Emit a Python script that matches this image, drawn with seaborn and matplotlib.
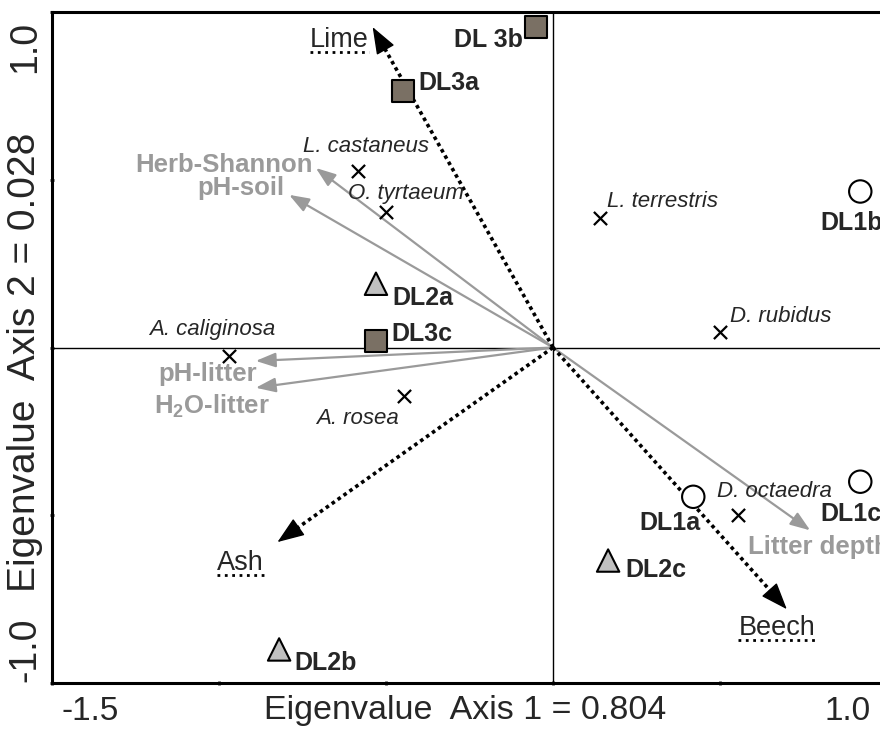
import pandas as pd
import seaborn as sns
import matplotlib.pyplot as plt
from matplotlib.lines import Line2D

# sites (samples)
site_names = ['DL1a', 'DL1b', 'DL1c', 'DL2a', 'DL2b', 'DL2c', 'DL3a', 'DL 3b', 'DL3c']
site_group = ['DL1', 'DL1', 'DL1', 'DL2', 'DL2', 'DL2', 'DL3', 'DL3', 'DL3']
site_x = [0.42, 0.92, 0.92, -0.53, -0.82, 0.165, -0.45, -0.05, -0.53]
site_y = [-0.445, 0.465, -0.40, 0.19, -0.90, -0.635, 0.765, 0.955, 0.02]

# earthworm species
species_names = ['L. castaneus', 'O. tyrtaeum', 'L. terrestris', 'D. rubidus',
                 'A. caliginosa', 'A. rosea', 'D. octaedra']
species_x = [-0.585, -0.50, 0.14, 0.50, -0.97, -0.445, 0.555]
species_y = [0.525, 0.405, 0.385, 0.045, -0.025, -0.145, -0.50]

# environmental variables (gray arrows)
env_names = ['Herb-Shannon', 'pH-soil', 'pH-litter', r'H$_\mathbf{2}$O-litter', 'Litter depth']
env_x = [-0.71, -0.79, -0.89, -0.89, 0.77]
env_y = [0.535, 0.455, -0.04, -0.12, -0.545]

# tree species (dotted arrows)
tree_names = ['Lime', 'Ash', 'Beech']
tree_x = [-0.54, -0.825, 0.70]
tree_y = [0.955, -0.58, -0.78]

# label placement: (dx px, dy px, ha)
site_lab = [(7, -26, 'right'), (-40, -32, 'left'), (-40, -32, 'left'),
            (16, -14, 'left'), (15, -14, 'left'), (17, -9, 'left'),
            (16, 8, 'left'), (-13, -13, 'right'), (15, 7, 'left')]
species_lab = [(-55, 25, 'left'), (-38, 18, 'left'), (7, 17, 'left'), (10, 16, 'left'),
               (-80, 26, 'left'), (-6, -22, 'right'), (-21, 24, 'left')]
env_lab = [(-3, 3, 'right'), (-5, 7, 'right'), (-48, -13, 'center'),
           (-44, -18, 'center'), (-62, -17, 'left')]
tree_lab = [(-4, -13, 'right'), (-60, -21, 'left'), (-10, -19, 'center')]

sns.set_style('white')
plt.rcParams['font.family'] = ['Liberation Sans', 'DejaVu Sans']
plt.rcParams['mathtext.fontset'] = 'custom'
plt.rcParams['mathtext.rm'] = 'Liberation Sans'
plt.rcParams['mathtext.bf'] = 'Liberation Sans:bold'

W, H = 880, 729
fig = plt.figure(figsize=(8.8, 7.29), dpi=100)
ax = fig.add_axes([52 / W, (729 - 683) / H, (887 - 52) / W, (683 - 12) / H])
ax.set_xlim(-1.5, 1.0)
ax.set_ylim(-1.0, 1.0)

ax.axhline(0, color='black', lw=1.0, zorder=1)
ax.axvline(0, color='black', lw=1.0, zorder=1)

gray = '#9a9a9a'
for x, y in zip(env_x, env_y):
    ax.annotate('', xy=(x, y), xytext=(0, 0),
                arrowprops=dict(arrowstyle='-|>,head_length=0.6,head_width=0.22',
                                color=gray, lw=1.6, mutation_scale=20,
                                shrinkA=0, shrinkB=0), zorder=2)
for x, y in zip(tree_x, tree_y):
    ax.plot([0, x * 0.97], [0, y * 0.97], color='black', lw=2.6,
            linestyle=(0, (1, 1)), zorder=2)
    ax.annotate('', xy=(x, y), xytext=(x * 0.96, y * 0.96),
                arrowprops=dict(arrowstyle='-|>,head_length=0.85,head_width=0.32',
                                color='black', lw=1, mutation_scale=20,
                                shrinkA=0, shrinkB=0), zorder=2)

sites = pd.DataFrame({'x': site_x, 'y': site_y, 'group': site_group})
sns.scatterplot(data=sites, x='x', y='y', hue='group', style='group',
                markers={'DL1': 'o', 'DL2': '^', 'DL3': 's'},
                palette={'DL1': 'white', 'DL2': '#c0c0c0', 'DL3': '#7a7064'},
                edgecolor='black', linewidth=1.5, legend=False, ax=ax, zorder=4,
                s=260)

species = pd.DataFrame({'x': species_x, 'y': species_y})
sns.scatterplot(data=species, x='x', y='y', marker='x', color='black',
                s=90, linewidth=1.6, legend=False, ax=ax, zorder=4)

k = 0.72
for name, x, y, (dx, dy, ha) in zip(site_names, site_x, site_y, site_lab):
    ax.annotate(name, xy=(x, y), xytext=(dx * k, dy * k), textcoords='offset points',
                ha=ha, va='center', fontsize=18, fontweight='bold', zorder=5)
for name, x, y, (dx, dy, ha) in zip(species_names, species_x, species_y, species_lab):
    ax.annotate(name, xy=(x, y), xytext=(dx * k, dy * k), textcoords='offset points',
                ha=ha, va='center', fontsize=16, fontstyle='italic', zorder=5)
for name, x, y, (dx, dy, ha) in zip(env_names, env_x, env_y, env_lab):
    ax.annotate(name, xy=(x, y), xytext=(dx * k, dy * k), textcoords='offset points',
                ha=ha, va='center', fontsize=18.5, fontweight='bold', color=gray, zorder=5)
tree_texts = []
for name, x, y, (dx, dy, ha) in zip(tree_names, tree_x, tree_y, tree_lab):
    t = ax.annotate(name, xy=(x, y), xytext=(dx * k, dy * k), textcoords='offset points',
                    ha=ha, va='center', fontsize=19.5, zorder=5)
    tree_texts.append(t)

ax.set_xticks([-1.5, -1.0, -0.5, 0, 0.5, 1.0])
ax.set_yticks([-1.0, -0.5, 0, 0.5, 1.0])
ax.set_xticklabels([])
ax.set_yticklabels([])
ax.tick_params(length=3, width=2, direction='inout', bottom=True, left=True)
ax.set_xlabel('')
ax.set_ylabel('')
for side in ['left', 'bottom', 'top']:
    ax.spines[side].set_linewidth(2.2)
    ax.spines[side].set_color('black')
ax.spines['right'].set_visible(False)

fig.text(90 / W, 1 - 712 / H, '-1.5', fontsize=24, ha='center', va='center')
fig.text(848 / W, 1 - 712 / H, '1.0', fontsize=24, ha='center', va='center')
fig.text(465 / W, 1 - 710 / H, 'Eigenvalue  Axis 1 = 0.804', fontsize=24.5, ha='center', va='center')
fig.text(25 / W, 1 - 47 / H, '1.0', fontsize=27, ha='center', va='center', rotation=90)
fig.text(25 / W, 1 - 650 / H, '-1.0', fontsize=27, ha='center', va='center', rotation=90)
fig.text(25 / W, 1 - 362 / H, 'Eigenvalue  Axis 2 = 0.028', fontsize=28, ha='center', va='center', rotation=90)

# dotted underline below the tree labels
fig.canvas.draw()
r = fig.canvas.get_renderer()
for t in tree_texts:
    bb = t.get_window_extent(renderer=r)
    yy = (bb.y0 + 1) / H
    fig.add_artist(Line2D([bb.x0 / W, bb.x1 / W], [yy, yy], transform=fig.transFigure,
                          color='black', lw=2, linestyle=':'))

plt.savefig('out.png', dpi=100)
